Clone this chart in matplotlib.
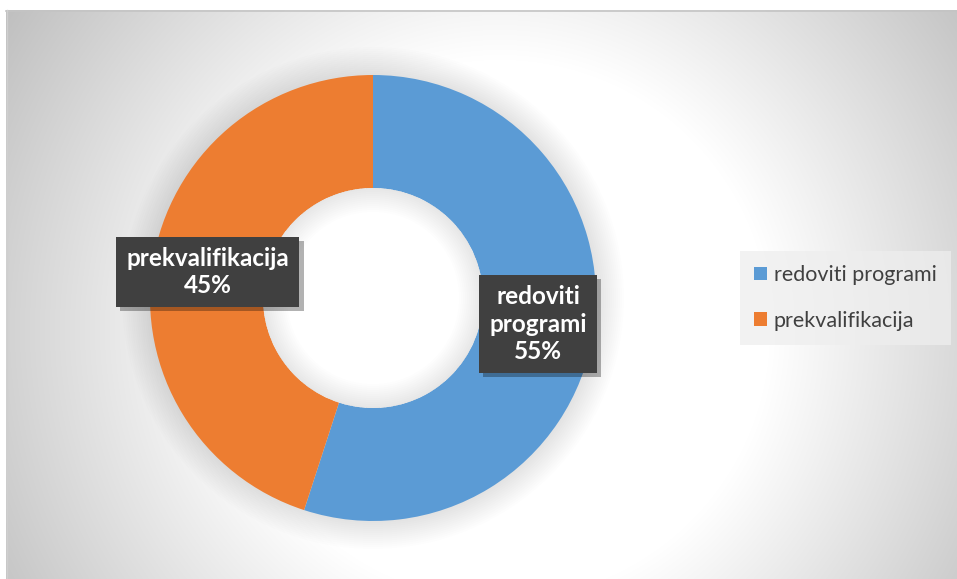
import numpy as np
import matplotlib
matplotlib.use("Agg")
import matplotlib.pyplot as plt
from matplotlib.patches import Circle, Annulus, Patch
import matplotlib.patheffects as pe

categories = ["redoviti programi", "prekvalifikacija"]
label_text = ["redoviti\nprogrami", "prekvalifikacija"]
shares = [55, 45]
colors = ["#5B9BD5", "#ED7D31"]

W, H = 957, 579
fig = plt.figure(figsize=(W / 100, H / 100), dpi=100)
fig.patch.set_facecolor("white")

# ---- background (radial gradient chart area) ----
bg = fig.add_axes([0, 0, 1, 1])
x0, y0 = 6, 10
xs = np.arange(x0, W) + 0.5
ys = np.arange(y0, H) + 0.5
X, Y = np.meshgrid(xs, ys)
d = np.hypot(X - 500, Y - 330)
g = np.clip(255 - np.clip(d - 270, 0, None) * 0.2, 0, 255) / 255
bg.imshow(np.dstack([g, g, g]), extent=(x0, W, H, y0), interpolation="bilinear",
          aspect="auto", zorder=0)
bg.plot([x0, W], [y0 + 0.5, y0 + 0.5], color="#c4c4c4", lw=1.2, zorder=1)
bg.plot([x0 + 0.5, x0 + 0.5], [y0, H], color="#cfcfcf", lw=1.0, zorder=1)
bg.set_xlim(0, W)
bg.set_ylim(H, 0)
bg.axis("off")

# ---- donut ----
cx, cy, R = 373, 298, 223
r_in = 110 / R
ax = fig.add_axes([(cx - R) / W, (H - cy - R) / H, 2 * R / W, 2 * R / H])
ax.patch.set_alpha(0)

# soft outer shadow
N = 14
step = 2.0 / R
for k in range(N, 0, -1):
    ax.add_patch(Circle((0, 0), 1 + k * step, color="black", alpha=0.006, lw=0,
                        zorder=0, clip_on=False))

wedges, _ = ax.pie(shares, colors=colors, startangle=90, counterclock=False, radius=1,
                   wedgeprops=dict(width=1 - r_in, linewidth=0))
for w in wedges:
    w.set_zorder(2)

# hole with inner shadow
ax.add_patch(Circle((0, 0), r_in, color="white", lw=0, zorder=3))
for k in range(1, 13):
    ax.add_patch(Annulus((0, 0), r_in, k * step, color="black", alpha=0.009, lw=0, zorder=4))

# data labels
for w, lab, val in zip(wedges, label_text, shares):
    th = np.deg2rad((w.theta1 + w.theta2) / 2)
    x, y = 0.75 * np.cos(th), 0.75 * np.sin(th)
    t = ax.text(x, y, f"{lab}\n{val}%", ha="center", va="center", color="white",
                fontsize=17.5, fontweight="bold", family="Lato", linespacing=1.22, zorder=6,
                bbox=dict(boxstyle="square,pad=0.42", facecolor="#404040",
                          edgecolor="none", linewidth=0))
    t.get_bbox_patch().set_path_effects([
        pe.SimplePatchShadow(offset=(3, -3), shadow_rgbFace="black", alpha=0.3),
        pe.Normal()])

ax.set_xlim(-1, 1)
ax.set_ylim(-1, 1)
ax.set_aspect("auto")
ax.axis("off")

# ---- legend ----
handles = [Patch(facecolor=c, edgecolor="none", label=l) for c, l in zip(colors, categories)]
leg = fig.legend(handles=handles, loc="center left", bbox_to_anchor=(740 / W, 1 - 298 / H),
                 frameon=True, fancybox=False, facecolor="#eeeeee", edgecolor="none",
                 framealpha=0.75, prop=dict(family="Lato", size=15.5), labelcolor="#404040",
                 handlelength=0.62, handleheight=0.62, handletextpad=0.3,
                 labelspacing=1.2, borderpad=0.65, borderaxespad=0)

fig.savefig("out.png", dpi=100, facecolor="white")
